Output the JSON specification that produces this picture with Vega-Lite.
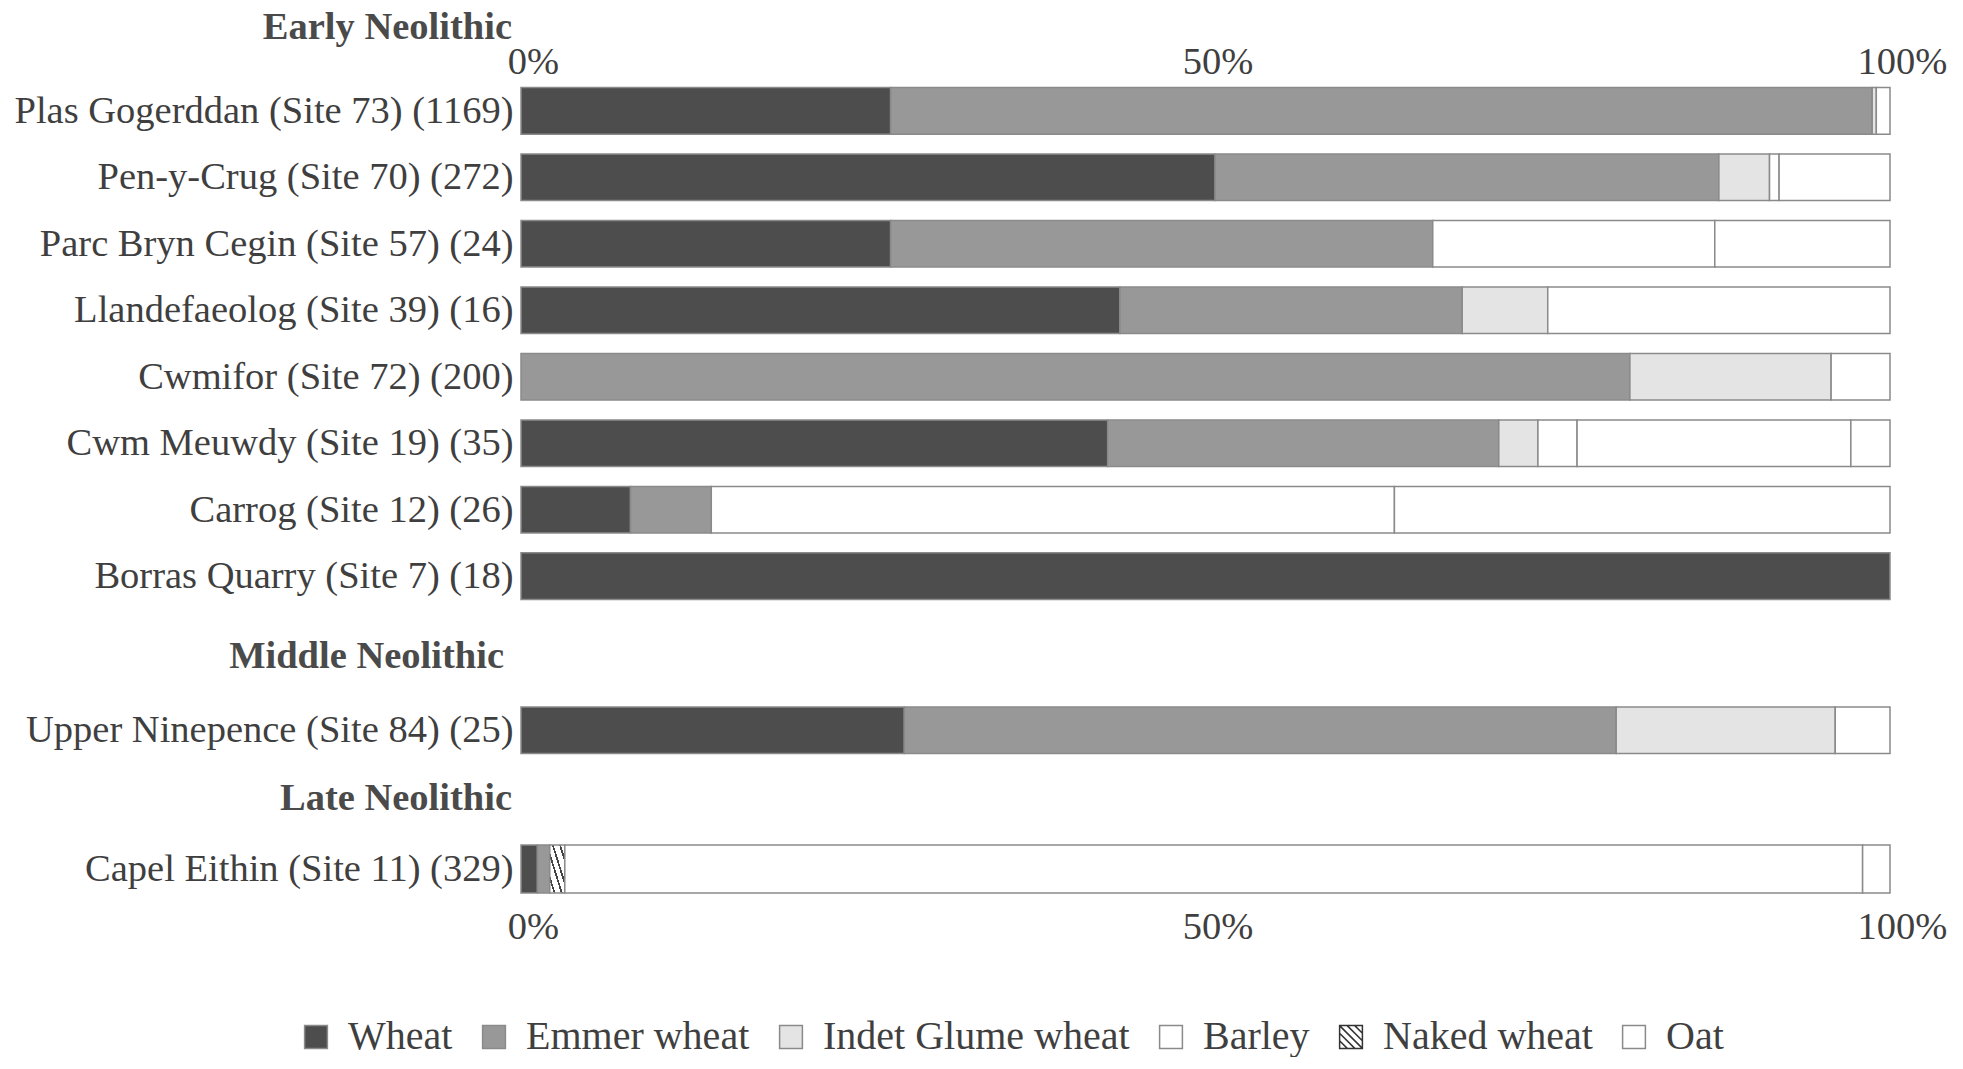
{
  "$schema": "https://vega.github.io/schema/vega-lite/v6.json",
  "autosize": {"type": "pad"},
  "padding": {"left": 14, "top": 7, "right": 0, "bottom": 0},
  "background": "white",
  "bounds": "flush",
  "spacing": 61,
  "config": {
    "view": {"stroke": null},
    "font": "Liberation Serif",
    "axis": {"labelFont": "Liberation Serif", "labelFontSize": 38.5, "labelColor": "#3f3f3f", "ticks": false, "tickSize": 0, "domain": false, "grid": false},
    "title": {"font": "Liberation Serif", "fontSize": 38.5, "fontWeight": "bold", "color": "#4a4a4a", "anchor": "start", "align": "right", "frame": "group"}
  },
  "data": {"values": [
    {"period": "Early", "site": "Plas Gogerddan (Site 73) (1169)", "type": "Wheat", "seq": 1, "pct": 27.0},
    {"period": "Early", "site": "Plas Gogerddan (Site 73) (1169)", "type": "Emmer wheat", "seq": 2, "pct": 71.7},
    {"period": "Early", "site": "Plas Gogerddan (Site 73) (1169)", "type": "Indet Glume wheat", "seq": 3, "pct": 0.3},
    {"period": "Early", "site": "Plas Gogerddan (Site 73) (1169)", "type": "Barley", "seq": 4, "pct": 1.0},
    {"period": "Early", "site": "Pen-y-Crug (Site 70) (272)", "type": "Wheat", "seq": 1, "pct": 50.7},
    {"period": "Early", "site": "Pen-y-Crug (Site 70) (272)", "type": "Emmer wheat", "seq": 2, "pct": 36.8},
    {"period": "Early", "site": "Pen-y-Crug (Site 70) (272)", "type": "Indet Glume wheat", "seq": 3, "pct": 3.7},
    {"period": "Early", "site": "Pen-y-Crug (Site 70) (272)", "type": "Barley", "seq": 4, "pct": 0.7},
    {"period": "Early", "site": "Pen-y-Crug (Site 70) (272)", "type": "Oat", "seq": 5, "pct": 8.1},
    {"period": "Early", "site": "Parc Bryn Cegin (Site 57) (24)", "type": "Wheat", "seq": 1, "pct": 27.0},
    {"period": "Early", "site": "Parc Bryn Cegin (Site 57) (24)", "type": "Emmer wheat", "seq": 2, "pct": 39.6},
    {"period": "Early", "site": "Parc Bryn Cegin (Site 57) (24)", "type": "Barley", "seq": 3, "pct": 20.6},
    {"period": "Early", "site": "Parc Bryn Cegin (Site 57) (24)", "type": "Oat", "seq": 4, "pct": 12.8},
    {"period": "Early", "site": "Llandefaeolog (Site 39) (16)", "type": "Wheat", "seq": 1, "pct": 43.75},
    {"period": "Early", "site": "Llandefaeolog (Site 39) (16)", "type": "Emmer wheat", "seq": 2, "pct": 25.0},
    {"period": "Early", "site": "Llandefaeolog (Site 39) (16)", "type": "Indet Glume wheat", "seq": 3, "pct": 6.25},
    {"period": "Early", "site": "Llandefaeolog (Site 39) (16)", "type": "Barley", "seq": 4, "pct": 25.0},
    {"period": "Early", "site": "Cwmifor (Site 72) (200)", "type": "Emmer wheat", "seq": 1, "pct": 81.0},
    {"period": "Early", "site": "Cwmifor (Site 72) (200)", "type": "Indet Glume wheat", "seq": 2, "pct": 14.7},
    {"period": "Early", "site": "Cwmifor (Site 72) (200)", "type": "Oat", "seq": 3, "pct": 4.3},
    {"period": "Early", "site": "Cwm Meuwdy (Site 19) (35)", "type": "Wheat", "seq": 1, "pct": 42.86},
    {"period": "Early", "site": "Cwm Meuwdy (Site 19) (35)", "type": "Emmer wheat", "seq": 2, "pct": 28.57},
    {"period": "Early", "site": "Cwm Meuwdy (Site 19) (35)", "type": "Indet Glume wheat", "seq": 3, "pct": 2.86},
    {"period": "Early", "site": "Cwm Meuwdy (Site 19) (35)", "type": "Barley", "seq": 4, "pct": 2.86},
    {"period": "Early", "site": "Cwm Meuwdy (Site 19) (35)", "type": "Barley", "seq": 5, "pct": 20.0},
    {"period": "Early", "site": "Cwm Meuwdy (Site 19) (35)", "type": "Oat", "seq": 6, "pct": 2.86},
    {"period": "Early", "site": "Carrog (Site 12) (26)", "type": "Wheat", "seq": 1, "pct": 8.0},
    {"period": "Early", "site": "Carrog (Site 12) (26)", "type": "Emmer wheat", "seq": 2, "pct": 5.9},
    {"period": "Early", "site": "Carrog (Site 12) (26)", "type": "Barley", "seq": 3, "pct": 49.9},
    {"period": "Early", "site": "Carrog (Site 12) (26)", "type": "Oat", "seq": 4, "pct": 36.2},
    {"period": "Early", "site": "Borras Quarry (Site 7) (18)", "type": "Wheat", "seq": 1, "pct": 100.0},
    {"period": "Middle", "site": "Upper Ninepence (Site 84) (25)", "type": "Wheat", "seq": 1, "pct": 28.0},
    {"period": "Middle", "site": "Upper Ninepence (Site 84) (25)", "type": "Emmer wheat", "seq": 2, "pct": 52.0},
    {"period": "Middle", "site": "Upper Ninepence (Site 84) (25)", "type": "Indet Glume wheat", "seq": 3, "pct": 16.0},
    {"period": "Middle", "site": "Upper Ninepence (Site 84) (25)", "type": "Oat", "seq": 4, "pct": 4.0},
    {"period": "Late", "site": "Capel Eithin (Site 11) (329)", "type": "Wheat", "seq": 1, "pct": 1.2},
    {"period": "Late", "site": "Capel Eithin (Site 11) (329)", "type": "Emmer wheat", "seq": 2, "pct": 0.9},
    {"period": "Late", "site": "Capel Eithin (Site 11) (329)", "type": "Naked wheat", "seq": 3, "pct": 1.1},
    {"period": "Late", "site": "Capel Eithin (Site 11) (329)", "type": "Barley", "seq": 4, "pct": 94.8},
    {"period": "Late", "site": "Capel Eithin (Site 11) (329)", "type": "Oat", "seq": 5, "pct": 2.0}
  ]},
  "resolve": {"scale": {"x": "independent", "y": "independent", "color": "shared"}},
  "vconcat": [
    {
      "title": {"text": "Early Neolithic", "offset": -5, "dx": -9, "anchor": "start", "align": "right", "frame": "group"},
      "width": 1369, "height": 545,
      "transform": [{"filter": "datum.period === 'Early'"}],
      "mark": {"type": "bar", "stroke": "#8a8a8a", "strokeWidth": 1.5},
      "encoding": {
        "y": {"field": "site", "type": "nominal", "sort": null, "scale": {"paddingInner": 0.3, "paddingOuter": 0.25}, "axis": {"title": null, "labelPadding": 8, "labelLimit": 0}},
        "x": {"field": "pct", "type": "quantitative", "stack": "normalize", "scale": {"domain": [0, 1], "nice": false}, "axis": {"orient": "top", "title": null, "values": [0, 0.5, 1], "format": ".0%", "labelPadding": 10, "labelBaseline": "middle", "labelFlush": false, "labelOverlap": false, "labelOffset": 12}},
        "color": {
          "condition": {"test": "datum.type === 'Naked wheat'", "value": {"gradient": "linear", "x1": 1, "y1": 0, "x2": 0, "y2": 1, "stops": [{"offset": 0, "color": "#ffffff"}, {"offset": 0.13, "color": "#ffffff"}, {"offset": 0.13, "color": "#444444"}, {"offset": 0.19, "color": "#444444"}, {"offset": 0.19, "color": "#ffffff"}, {"offset": 0.37, "color": "#ffffff"}, {"offset": 0.37, "color": "#444444"}, {"offset": 0.43, "color": "#444444"}, {"offset": 0.43, "color": "#ffffff"}, {"offset": 0.57, "color": "#ffffff"}, {"offset": 0.57, "color": "#444444"}, {"offset": 0.63, "color": "#444444"}, {"offset": 0.63, "color": "#ffffff"}, {"offset": 0.81, "color": "#ffffff"}, {"offset": 0.81, "color": "#444444"}, {"offset": 0.87, "color": "#444444"}, {"offset": 0.87, "color": "#ffffff"}, {"offset": 1, "color": "#ffffff"}]}},
          "field": "type", "type": "nominal",
          "scale": {"domain": ["Wheat", "Emmer wheat", "Indet Glume wheat", "Barley", "Naked wheat", "Oat"], "range": ["#4d4d4d", "#989898", "#e4e4e4", "#ffffff", "#ffffff", "#ffffff"]},
          "legend": {"orient": "none", "legendX": -225, "legendY": 946, "direction": "horizontal", "columns": 6, "title": null, "labelFont": "Liberation Serif", "labelFontSize": 40, "labelColor": "#3f3f3f", "labelLimit": 0, "labelOffset": 12, "columnPadding": 21, "symbolType": "square", "symbolSize": 520, "symbolStrokeColor": "#8a8a8a", "symbolStrokeWidth": 1.5,
            "encode": {"symbols": {"update": {"shape": {"signal": "datum.value === 'Naked wheat' ? 'M-1,-1H1V1H-1Z M-1,-1L1,1 M-0.33,-1L1,0.33 M0.33,-1L1,-0.33 M-1,-0.33L0.33,1 M-1,0.33L-0.33,1' : 'square'"}, "stroke": {"signal": "datum.value === 'Naked wheat' ? '#333333' : '#8a8a8a'"}}}}}
        },
        "order": {"field": "seq", "type": "quantitative"}
      }
    },
    {
      "title": {"text": "Middle Neolithic", "offset": 1, "dx": -17, "anchor": "start", "align": "right", "frame": "group"},
      "width": 1369, "height": 106.5,
      "transform": [{"filter": "datum.period === 'Middle'"}],
      "mark": {"type": "bar", "stroke": "#8a8a8a", "strokeWidth": 1.5},
      "encoding": {
        "y": {"field": "site", "type": "nominal", "sort": null, "scale": {"paddingInner": 0, "paddingOuter": 0.645}, "axis": {"title": null, "labelPadding": 8, "labelLimit": 0}},
        "x": {"field": "pct", "type": "quantitative", "stack": "normalize", "scale": {"domain": [0, 1], "nice": false}, "axis": null},
        "color": {
          "condition": {"test": "datum.type === 'Naked wheat'", "value": {"gradient": "linear", "x1": 1, "y1": 0, "x2": 0, "y2": 1, "stops": [{"offset": 0, "color": "#ffffff"}, {"offset": 0.13, "color": "#ffffff"}, {"offset": 0.13, "color": "#444444"}, {"offset": 0.19, "color": "#444444"}, {"offset": 0.19, "color": "#ffffff"}, {"offset": 0.37, "color": "#ffffff"}, {"offset": 0.37, "color": "#444444"}, {"offset": 0.43, "color": "#444444"}, {"offset": 0.43, "color": "#ffffff"}, {"offset": 0.57, "color": "#ffffff"}, {"offset": 0.57, "color": "#444444"}, {"offset": 0.63, "color": "#444444"}, {"offset": 0.63, "color": "#ffffff"}, {"offset": 0.81, "color": "#ffffff"}, {"offset": 0.81, "color": "#444444"}, {"offset": 0.87, "color": "#444444"}, {"offset": 0.87, "color": "#ffffff"}, {"offset": 1, "color": "#ffffff"}]}},
          "field": "type", "type": "nominal",
          "scale": {"domain": ["Wheat", "Emmer wheat", "Indet Glume wheat", "Barley", "Naked wheat", "Oat"], "range": ["#4d4d4d", "#989898", "#e4e4e4", "#ffffff", "#ffffff", "#ffffff"]}
        },
        "order": {"field": "seq", "type": "quantitative"}
      }
    },
    {
      "title": {"text": "Late Neolithic", "offset": 26, "dx": -9, "anchor": "start", "align": "right", "frame": "group"},
      "width": 1369, "height": 48,
      "transform": [{"filter": "datum.period === 'Late'"}],
      "mark": {"type": "bar", "stroke": "#8a8a8a", "strokeWidth": 1.5},
      "encoding": {
        "y": {"field": "site", "type": "nominal", "sort": null, "scale": {"paddingInner": 0, "paddingOuter": 0}, "axis": {"title": null, "labelPadding": 8, "labelLimit": 0}},
        "x": {"field": "pct", "type": "quantitative", "stack": "normalize", "scale": {"domain": [0, 1], "nice": false}, "axis": {"orient": "bottom", "title": null, "values": [0, 0.5, 1], "format": ".0%", "labelPadding": 33, "labelBaseline": "middle", "labelFlush": false, "labelOverlap": false, "labelOffset": 12}},
        "color": {
          "condition": {"test": "datum.type === 'Naked wheat'", "value": {"gradient": "linear", "x1": 1, "y1": 0, "x2": 0, "y2": 1, "stops": [{"offset": 0, "color": "#ffffff"}, {"offset": 0.13, "color": "#ffffff"}, {"offset": 0.13, "color": "#444444"}, {"offset": 0.19, "color": "#444444"}, {"offset": 0.19, "color": "#ffffff"}, {"offset": 0.37, "color": "#ffffff"}, {"offset": 0.37, "color": "#444444"}, {"offset": 0.43, "color": "#444444"}, {"offset": 0.43, "color": "#ffffff"}, {"offset": 0.57, "color": "#ffffff"}, {"offset": 0.57, "color": "#444444"}, {"offset": 0.63, "color": "#444444"}, {"offset": 0.63, "color": "#ffffff"}, {"offset": 0.81, "color": "#ffffff"}, {"offset": 0.81, "color": "#444444"}, {"offset": 0.87, "color": "#444444"}, {"offset": 0.87, "color": "#ffffff"}, {"offset": 1, "color": "#ffffff"}]}},
          "field": "type", "type": "nominal",
          "scale": {"domain": ["Wheat", "Emmer wheat", "Indet Glume wheat", "Barley", "Naked wheat", "Oat"], "range": ["#4d4d4d", "#989898", "#e4e4e4", "#ffffff", "#ffffff", "#ffffff"]}
        },
        "order": {"field": "seq", "type": "quantitative"}
      }
    }
  ]
}
